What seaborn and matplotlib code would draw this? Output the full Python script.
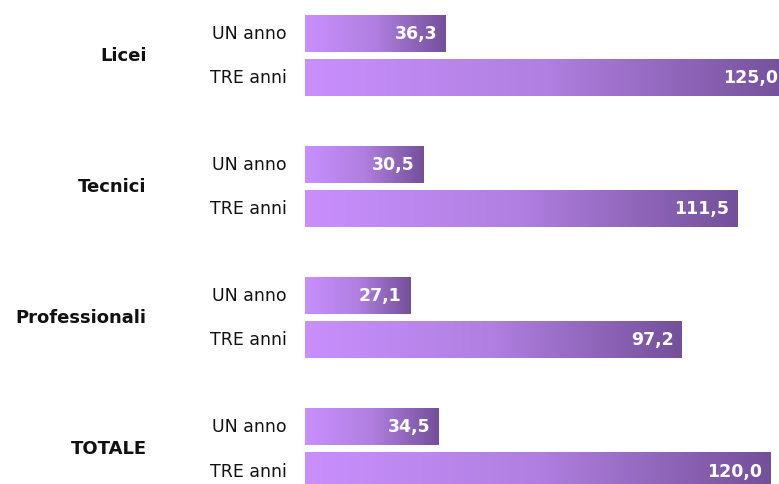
import numpy as np
import pandas as pd
import matplotlib
matplotlib.use("Agg")
import matplotlib.pyplot as plt
from matplotlib.colors import LinearSegmentedColormap
import seaborn as sns

groups = ["Licei", "Tecnici", "Professionali", "TOTALE"]
periods = ["UN anno", "TRE anni"]
un_anno = [36.3, 30.5, 27.1, 34.5]
tre_anni = [125.0, 111.5, 97.2, 120.0]

df = pd.DataFrame({
    "gruppo": groups * 2,
    "periodo": [periods[0]] * 4 + [periods[1]] * 4,
    "valore": un_anno + tre_anni,
})

sns.set_style("white")
plt.rcParams["font.family"] = ["DejaVu Sans"]

fig = plt.figure(figsize=(7.79, 4.85), dpi=100)
ax = fig.add_axes([305 / 779, 0, 474 / 779, 1])

sns.barplot(data=df, y="gruppo", x="valore", hue="periodo", order=groups,
            hue_order=periods, orient="h", width=0.672, gap=0.16,
            legend=False, ax=ax)

# la barra da 125 esce dal bordo destro, come nell'originale
xmax = 122.3
ax.set_xlim(0, xmax)
ax.set_ylim(3.271, -0.431)

cmap = LinearSegmentedColormap.from_list("viola", ["#c88ffd", "#b07fe0", "#74509a"])
grad = np.linspace(0, 1, 256).reshape(1, -1)

for p in list(ax.patches):
    x0, y0 = p.get_x(), p.get_y()
    w, h = p.get_width(), p.get_height()
    if w <= 0:
        continue
    ax.imshow(grad, cmap=cmap, aspect="auto", extent=[x0, x0 + w, y0 + h, y0],
              zorder=2, interpolation="bicubic")
    p.set_visible(False)
    fine = min(x0 + w, xmax)
    dx = -6 if x0 + w < xmax else -1
    ax.annotate(f"{w:.1f}".replace(".", ","), xy=(fine, y0 + h / 2),
                xytext=(dx, 0), textcoords="offset points", ha="right",
                va="center", color="white", fontweight="bold", fontsize=12.5,
                zorder=3)
    lab = periods[0] if w in un_anno else periods[1]
    ax.annotate(lab, xy=(0, y0 + h / 2), xytext=(-13, 0),
                textcoords="offset points", ha="right", va="center",
                fontsize=12.5, color="#111111", annotation_clip=False)

for i, g in enumerate(groups):
    ax.annotate(g, xy=(0, i), xytext=(-114, 0), textcoords="offset points",
                ha="right", va="center", fontsize=13, fontweight="bold",
                color="#111111", annotation_clip=False)

ax.set_xlabel("")
ax.set_ylabel("")
ax.set_xticks([])
ax.set_yticks([])
sns.despine(ax=ax, left=True, bottom=True)

fig.savefig("out.png", dpi=100)
